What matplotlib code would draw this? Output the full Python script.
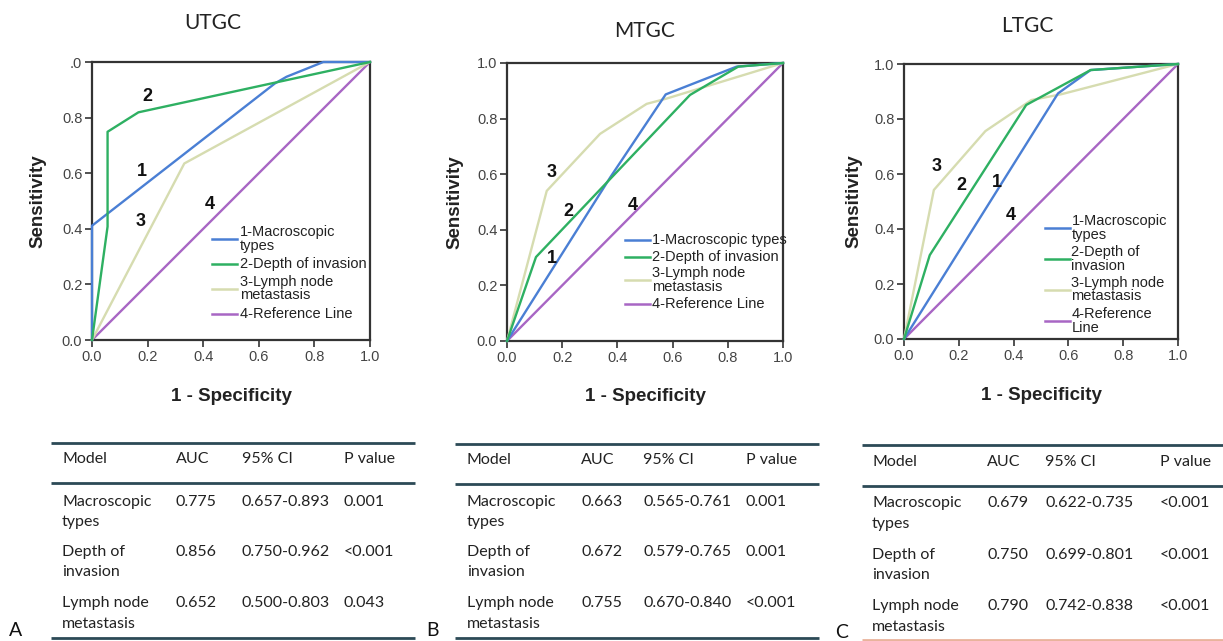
import matplotlib
matplotlib.use("Agg")
import matplotlib.pyplot as plt
from matplotlib.lines import Line2D

# ---------------- data ----------------
panels = ["UTGC", "MTGC", "LTGC"]
panel_letters = ["A", "B", "C"]

# UTGC
utgc_macro_x = [0.0, 0.0, 0.658, 0.70, 0.832, 1.0]
utgc_macro_y = [0.0, 0.411, 0.923, 0.947, 1.0, 1.0]
utgc_depth_x = [0.0, 0.056, 0.056, 0.167, 1.0]
utgc_depth_y = [0.0, 0.408, 0.749, 0.819, 1.0]
utgc_lymph_x = [0.0, 0.332, 1.0]
utgc_lymph_y = [0.0, 0.635, 1.0]

# MTGC
mtgc_macro_x = [0.0, 0.375, 0.575, 0.832, 1.0]
mtgc_macro_y = [0.0, 0.59, 0.887, 0.987, 1.0]
mtgc_depth_x = [0.0, 0.105, 0.663, 0.838, 1.0]
mtgc_depth_y = [0.0, 0.302, 0.885, 0.987, 1.0]
mtgc_lymph_x = [0.0, 0.144, 0.337, 0.506, 0.578, 1.0]
mtgc_lymph_y = [0.0, 0.54, 0.745, 0.853, 0.872, 1.0]

# LTGC
ltgc_macro_x = [0.0, 0.562, 0.681, 1.0]
ltgc_macro_y = [0.0, 0.893, 0.978, 1.0]
ltgc_depth_x = [0.0, 0.094, 0.446, 0.681, 1.0]
ltgc_depth_y = [0.0, 0.305, 0.851, 0.978, 1.0]
ltgc_lymph_x = [0.0, 0.109, 0.297, 0.465, 0.574, 1.0]
ltgc_lymph_y = [0.0, 0.542, 0.756, 0.869, 0.89, 1.0]

ref_x = [0.0, 1.0]
ref_y = [0.0, 1.0]

ticks = [0.0, 0.2, 0.4, 0.6, 0.8, 1.0]
tick_labels = ["0.0", "0.2", "0.4", "0.6", "0.8", "1.0"]
ytick_labels_A = ["0.0", "0.2", "0.4", "0.6", "0.8", ".0"]

legend_labels_A = ["1-Macroscopic\ntypes", "2-Depth of invasion",
                   "3-Lymph node\nmetastasis", "4-Reference Line"]
legend_labels_B = ["1-Macroscopic types", "2-Depth of invasion",
                   "3-Lymph node\nmetastasis", "4-Reference Line"]
legend_labels_C = ["1-Macroscopic\ntypes", "2-Depth of\ninvasion",
                   "3-Lymph node\nmetastasis", "4-Reference\nLine"]

curve_numbers = ["1", "2", "3", "4"]

table_header = ["Model", "AUC", "95% CI", "P value"]
table_models = ["Macroscopic\ntypes", "Depth of\ninvasion", "Lymph node\nmetastasis"]
auc_A = ["0.775", "0.856", "0.652"]
ci_A = ["0.657-0.893", "0.750-0.962", "0.500-0.803"]
p_A = ["0.001", "<0.001", "0.043"]
auc_B = ["0.663", "0.672", "0.755"]
ci_B = ["0.565-0.761", "0.579-0.765", "0.670-0.840"]
p_B = ["0.001", "0.001", "<0.001"]
auc_C = ["0.679", "0.750", "0.790"]
ci_C = ["0.622-0.735", "0.699-0.801", "0.742-0.838"]
p_C = ["<0.001", "<0.001", "<0.001"]

# ---------------- style ----------------
C_BLUE = "#4a7fd4"
C_GREEN = "#2eb062"
C_BEIGE = "#d6dcb0"
C_PURPLE = "#a866c4"
colors = [C_BLUE, C_GREEN, C_BEIGE, C_PURPLE]
AX_COL = "#333333"
TABLE_LINE = "#2c4a56"
SANS = ["Liberation Sans", "DejaVu Sans"]
CAL = ["Lato", "DejaVu Sans"]

W, H = 1223, 641
fig = plt.figure(figsize=(W / 100, H / 100), dpi=100)
fig.patch.set_facecolor("white")


def px_axes(x0, y0, x1, y1):
    return fig.add_axes([x0 / W, 1 - y1 / H, (x1 - x0) / W, (y1 - y0) / H])


panel_boxes = [(92, 62, 370, 340), (507, 63, 783, 341), (904, 64, 1178, 339)]
curves = [
    [(utgc_macro_x, utgc_macro_y), (utgc_depth_x, utgc_depth_y), (utgc_lymph_x, utgc_lymph_y)],
    [(mtgc_macro_x, mtgc_macro_y), (mtgc_depth_x, mtgc_depth_y), (mtgc_lymph_x, mtgc_lymph_y)],
    [(ltgc_macro_x, ltgc_macro_y), (ltgc_depth_x, ltgc_depth_y), (ltgc_lymph_x, ltgc_lymph_y)],
]
legend_sets = [legend_labels_A, legend_labels_B, legend_labels_C]
# legend layout: (handle x0, handle x1, text x, [y centers])
legend_layout = [
    (0.43, 0.52, 0.533, [0.364, 0.274, 0.185, 0.094]),
    (0.428, 0.518, 0.524, [0.365, 0.303, 0.219, 0.132]),
    (0.513, 0.605, 0.611, [0.403, 0.291, 0.180, 0.066]),
]
# curve number label positions (data coords), order 1,2,3,4
number_pos = [
    [(0.18, 0.606), (0.20, 0.876), (0.174, 0.426), (0.425, 0.486)],
    [(0.163, 0.297), (0.223, 0.465), (0.163, 0.606), (0.455, 0.489)],
    [(0.34, 0.569), (0.209, 0.56), (0.118, 0.627), (0.39, 0.448)],
]
ylabel_x = [-0.162, -0.159, -0.153]
xlabel_y = [-0.173, -0.169, -0.175]
title_pos = [(213, 23), (645, 31), (1027, 26)]

for i in range(3):
    ax = px_axes(*panel_boxes[i])
    ax.set_xlim(0, 1)
    ax.set_ylim(0, 1)
    ax.plot(ref_x, ref_y, color=C_PURPLE, lw=1.7, zorder=2)
    for (cx, cy), col, z in zip(curves[i], colors[:3], [4, 5, 3]):
        ax.plot(cx, cy, color=col, lw=1.7, zorder=z, clip_on=False)
    ax.set_xticks(ticks)
    ax.set_xticklabels(tick_labels)
    ax.set_yticks(ticks)
    ax.set_yticklabels(ytick_labels_A if i == 0 else tick_labels)
    ax.tick_params(direction="out", length=5, width=1.2, colors=AX_COL,
                   labelsize=10.5, pad=2)
    for lab in ax.get_xticklabels() + ax.get_yticklabels():
        lab.set_family(SANS)
        lab.set_color("#444444")
    for sp in ax.spines.values():
        sp.set_color(AX_COL)
        sp.set_linewidth(1.6)
    ax.set_ylabel("Sensitivity", fontsize=13.5, fontweight="bold", family=SANS,
                  color="#222222")
    ax.set_xlabel("1 - Specificity", fontsize=13.5, fontweight="bold", family=SANS,
                  color="#222222")
    ax.yaxis.set_label_coords(ylabel_x[i], 0.5)
    ax.xaxis.set_label_coords(0.5, xlabel_y[i])
    # curve numbers
    for n, (nx, ny) in zip(curve_numbers, number_pos[i]):
        ax.text(nx, ny, n, fontsize=13, fontweight="bold", family=SANS,
                color="#111111", ha="center", va="center", zorder=6)
    # legend (manual)
    hx0, hx1, tx, ys = legend_layout[i]
    for lab, col, yy in zip(legend_sets[i], colors, ys):
        ax.add_line(Line2D([hx0, hx1], [yy, yy], color=col, lw=1.8, zorder=6))
        ax.text(tx, yy, lab, fontsize=10.5, family=SANS, color="#222222",
                ha="left", va="center", linespacing=0.95, zorder=6)

# ---------------- overlay for titles and tables (pixel coords) ----------------
ov = fig.add_axes([0, 0, 1, 1], zorder=-1)
ov.set_xlim(0, W)
ov.set_ylim(H, 0)
ov.axis("off")

for t, (tx, ty) in zip(panels, title_pos):
    ov.text(tx, ty, t, fontsize=15, family=CAL, color="#222222",
            ha="center", va="center")

tables = [
    dict(x0=51, x1=415, ly=[443, 483, 638], cols=[62, 176, 242, 344], hy=459,
         rows=[(502, 522), (552, 572), (603, 624)], auc=auc_A, ci=ci_A, p=p_A,
         letter=(16, 630), bottom_col=TABLE_LINE),
    dict(x0=455, x1=819, ly=[444, 484, 638], cols=[467, 581, 643, 746], hy=460,
         rows=[(502, 522), (552, 572), (603, 624)], auc=auc_B, ci=ci_B, p=p_B,
         letter=(432, 630), bottom_col=TABLE_LINE),
    dict(x0=862, x1=1223, ly=[445, 486, 640], cols=[872, 987, 1045, 1160], hy=462,
         rows=[(503, 524), (555, 575), (606, 627)], auc=auc_C, ci=ci_C, p=p_C,
         letter=(842, 632), bottom_col="#e9b39c"),
]

for k, tb in enumerate(tables):
    for j, ly in enumerate(tb["ly"]):
        col = tb["bottom_col"] if j == 2 else TABLE_LINE
        ov.plot([tb["x0"], tb["x1"]], [ly, ly], color=col, lw=2.0,
                solid_capstyle="butt")
    for c, h in zip(tb["cols"], table_header):
        ov.text(c, tb["hy"], h, fontsize=11.5, family=CAL, color="#222222",
                ha="left", va="center")
    for r, model in enumerate(table_models):
        y1, y2 = tb["rows"][r]
        l1, l2 = model.split("\n")
        ov.text(tb["cols"][0], y1, l1, fontsize=11.5, family=CAL, color="#222222",
                ha="left", va="center")
        ov.text(tb["cols"][0], y2, l2, fontsize=11.5, family=CAL, color="#222222",
                ha="left", va="center")
        for c, v in zip(tb["cols"][1:], [tb["auc"][r], tb["ci"][r], tb["p"][r]]):
            ov.text(c, y1, v, fontsize=11.5, family=CAL, color="#222222",
                    ha="left", va="center")
    lx, lyy = tb["letter"]
    ov.text(lx, lyy, panel_letters[k], fontsize=14, family=CAL, color="#111111",
            ha="center", va="center")

fig.savefig("out.png", dpi=100, facecolor="white")
